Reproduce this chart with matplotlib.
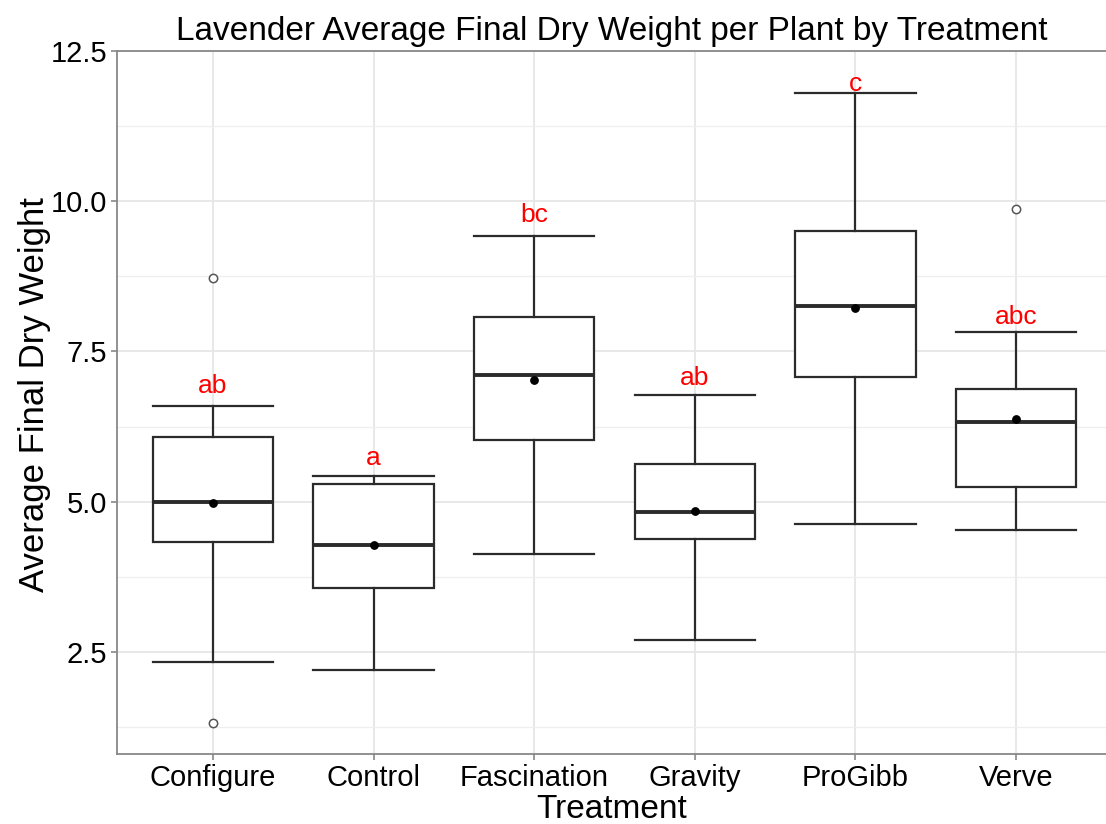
import matplotlib
matplotlib.use("Agg")
import matplotlib.pyplot as plt
from matplotlib.ticker import MultipleLocator

plt.rcParams['font.family'] = ['Liberation Sans', 'DejaVu Sans']

# values
treatments = ["Configure", "Control", "Fascination", "Gravity", "ProGibb", "Verve"]
whisker_low = [2.33, 2.20, 4.13, 2.70, 4.63, 4.53]
q1 = [4.33, 3.57, 6.03, 4.37, 7.07, 5.25]
medians = [5.00, 4.28, 7.10, 4.82, 8.25, 6.32]
q3 = [6.07, 5.30, 8.07, 5.62, 9.50, 6.87]
whisker_high = [6.60, 5.42, 9.42, 6.78, 11.80, 7.82]
means = [4.97, 4.28, 7.03, 4.85, 8.22, 6.37]
outliers = [[8.72, 1.32], [], [], [], [], [9.87]]
letters = ["ab", "a", "bc", "ab", "c", "abc"]
letter_y = [6.93, 5.73, 9.77, 7.05, 11.95, 8.07]

stats = []
for i, name in enumerate(treatments):
    stats.append({'label': name, 'whislo': whisker_low[i], 'q1': q1[i], 'med': medians[i],
                  'q3': q3[i], 'whishi': whisker_high[i], 'fliers': outliers[i]})

fig = plt.figure(figsize=(11.06, 8.24), dpi=100)
ax = fig.add_axes([117 / 1106, 1 - 754 / 824, 1 - 117 / 1106, (754 - 51) / 824])

positions = list(range(1, len(treatments) + 1))
line_col = '#2b2b2b'
ax.bxp(stats, positions=positions, widths=0.75, showmeans=False, patch_artist=True,
       boxprops=dict(facecolor='white', edgecolor=line_col, linewidth=1.6),
       whiskerprops=dict(color=line_col, linewidth=1.6),
       capprops=dict(color=line_col, linewidth=1.6),
       medianprops=dict(color=line_col, linewidth=2.8),
       flierprops=dict(marker='o', markerfacecolor='white', markeredgecolor='#555555',
                       markersize=6, markeredgewidth=1.1),
       capwidths=0.75, zorder=3)

ax.scatter(positions, means, color='black', s=28, zorder=4)

for x, lab, y in zip(positions, letters, letter_y):
    ax.text(x, y, lab, color='#ff0000', fontsize=19, ha='center', va='center', zorder=5)

ax.set_xlim(0.402, 6.56)
ax.set_ylim(0.8, 12.5)
ax.yaxis.set_minor_locator(MultipleLocator(1.25))
ax.set_yticks([2.5, 5.0, 7.5, 10.0, 12.5])
ax.set_yticklabels(["2.5", "5.0", "7.5", "10.0", "12.5"])
ax.set_xticks(positions)
ax.set_xticklabels(treatments)

ax.grid(True, which='major', color='#e6e6e6', linewidth=1.3, zorder=0)
ax.grid(True, which='minor', axis='y', color='#efefef', linewidth=0.9, zorder=0)
ax.set_axisbelow(True)

for side in ['left', 'bottom', 'top']:
    ax.spines[side].set_color('#888888')
    ax.spines[side].set_linewidth(1.3)
ax.spines['right'].set_visible(False)

ax.tick_params(axis='both', which='major', labelsize=21, colors='#888888',
               labelcolor='black', length=4, width=1.2)
ax.tick_params(axis='y', which='minor', length=0)
ax.tick_params(axis='x', pad=3)
ax.tick_params(axis='y', pad=3)

ax.set_xlabel("Treatment", fontsize=24, labelpad=1.5)
ax.set_ylabel("Average Final Dry Weight", fontsize=25, labelpad=0)
ax.yaxis.label.set_y(0.511)
ax.set_title("Lavender Average Final Dry Weight per Plant by Treatment", fontsize=24, pad=8)

fig.savefig("out.png", dpi=100)
